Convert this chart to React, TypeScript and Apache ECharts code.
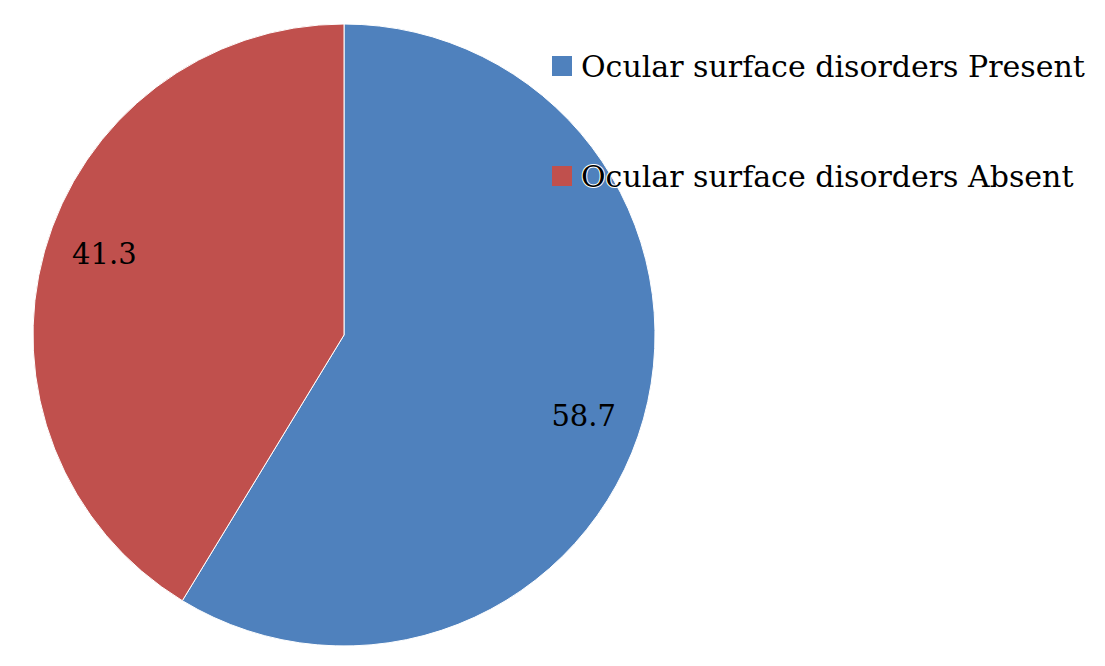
import React, { useEffect, useRef } from "react";
import * as echarts from "echarts";

const categories = ["Ocular surface disorders Present", "Ocular surface disorders Absent"];
const values = [58.7, 41.3];
const colors = ["#4F81BD", "#C0504D"];

export default function App() {
  const ref = useRef<HTMLDivElement>(null);
  useEffect(() => {
    if (!ref.current) return;
    const chart = echarts.init(ref.current, null, { renderer: "svg" });
    const data = categories.map((name, i) => ({ name, value: values[i], itemStyle: { color: colors[i] } }));
    chart.setOption({
      animation: false,
      backgroundColor: "#fff",
      legend: {
        orient: "vertical",
        left: 547,
        top: 45,
        itemWidth: 20,
        itemHeight: 20,
        itemGap: 78,
        icon: "rect",
        data: categories,
        itemStyle: { borderWidth: 0 },
        textStyle: {
          fontFamily: "DejaVu Serif",
          fontSize: 30,
          color: "#000",
          lineHeight: 30,
          padding: [0, 0, 0, 4],
          textBorderColor: "#fff",
          textBorderWidth: 2,
        },
      },
      series: [
        {
          type: "pie",
          center: [344, 335],
          radius: [0, 311],
          startAngle: 90,
          clockwise: true,
          label: { show: false },
          labelLine: { show: false },
          itemStyle: { borderColor: "#fff", borderWidth: 1 },
          emphasis: { disabled: true },
          data,
        },
        {
          type: "pie",
          center: [344, 335],
          radius: [189, 311],
          startAngle: 87,
          clockwise: true,
          silent: true,
          legendHoverLink: false,
          itemStyle: { color: "transparent", borderWidth: 0 },
          label: {
            show: true,
            position: "inside",
            formatter: (p: any) => String(p.value),
            fontFamily: "DejaVu Serif",
            fontSize: 29,
            color: "#000",
          },
          labelLine: { show: false },
          emphasis: { disabled: true },
          data: categories.map((name, i) => ({ name: name + " ", value: values[i] })),
        },
      ],
    });
    return () => chart.dispose();
  }, []);
  return <div ref={ref} style={{ position: "fixed", left: 0, top: 0, width: 1105, height: 666 }} />;
}
